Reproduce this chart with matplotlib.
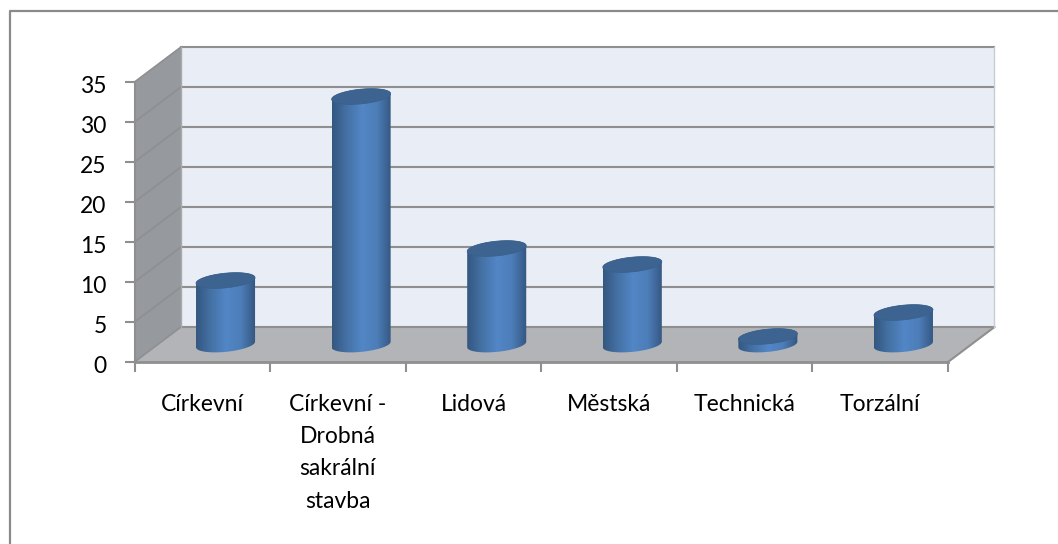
import numpy as np
import matplotlib
matplotlib.use("Agg")
import matplotlib.pyplot as plt
from matplotlib.colors import LinearSegmentedColormap
from matplotlib.lines import Line2D
from matplotlib.patches import Polygon
from matplotlib.transforms import ScaledTranslation

# data
categories = ["Církevní", "Církevní -\nDrobná\nsakrální\nstavba", "Lidová", "Městská", "Technická", "Torzální"]
values = [8, 31, 12, 10, 1, 4]
y_ticks = [0, 5, 10, 15, 20, 25, 30, 35]

# colours
GRID = "#8f8f8f"
BACK = "#e9edf6"
FLOOR = "#b2b4b8"
SIDE = "#96999d"
TOP = "#3d6491"
cyl = LinearSegmentedColormap.from_list("cyl", ["#345780", "#4572a6", "#5286c6", "#4d7eb9", "#345680"])

W, H = 1058, 544
plt.rcParams["font.family"] = ["Lato", "DejaVu Sans"]

fig = plt.figure(figsize=(W / 100, H / 100), dpi=100)
ax = fig.add_axes([134.5 / W, (H - 362) / H, 813.5 / W, 280 / H])

# 3d depth of the box, in data units
dx = 46.5 / 135.6
dy = 35 / 8
n = len(categories)
ymax = y_ticks[-1]

ax.add_patch(Polygon([(dx, dy), (n + dx, dy), (n + dx, ymax + dy), (dx, ymax + dy)], fc=BACK, ec="none", clip_on=False, zorder=1))
ax.add_patch(Polygon([(0, 0), (n, 0), (n + dx, dy), (dx, dy)], fc=FLOOR, ec="none", clip_on=False, zorder=1))
ax.add_patch(Polygon([(0, 0), (dx, dy), (dx, ymax + dy), (0, ymax)], fc=SIDE, ec="none", clip_on=False, zorder=1))

for v in y_ticks:
    ax.plot([dx, n + dx], [v + dy, v + dy], color=GRID, lw=1.5, clip_on=False, zorder=2)
    ax.plot([0, dx], [v, v + dy], color=GRID, lw=1.2, clip_on=False, zorder=2)
ax.plot([0, n], [0, 0], color=GRID, lw=2, clip_on=False, zorder=2)
ax.plot([n, n + dx], [0, dy], color=GRID, lw=1.5, clip_on=False, zorder=2)
ax.plot([n + dx, n + dx], [dy, ymax + dy], color="#c8ccd4", lw=1, clip_on=False, zorder=2)
ax.plot([0, 0], [0, ymax], color=GRID, lw=1.5, clip_on=False, zorder=2)
ax.plot([dx, dx], [dy, ymax + dy], color="#a8aaae", lw=1, clip_on=False, zorder=2)

# circle lying on the floor plane, seen through the depth vector
rx = 27.6 / 135.6
k = 0.225


def ring(cx, cy, t):
    return cx + np.cos(t) * rx + np.sin(t) * k * dx, cy + np.sin(t) * k * dy


t0 = np.arctan2(k * dx, rx)
half = np.sqrt(rx ** 2 + (k * dx) ** 2)
grad = np.linspace(0, 1, 128).reshape(1, -1)

for i, v in enumerate(values):
    cx = i + 0.5 + dx / 2
    low = dy / 2
    top = v + dy / 2
    t_low = np.linspace(t0, t0 - np.pi, 60)
    t_up = np.linspace(t0 + np.pi, t0, 60)
    xl, yl = ring(cx, low, t_low)
    xu, yu = ring(cx, top, t_up)
    body = Polygon(np.column_stack([np.r_[xl, xu], np.r_[yl, yu]]), fc="none", ec="none", zorder=3)
    ax.add_patch(body)
    im = ax.imshow(grad, cmap=cyl, extent=[cx - half, cx + half, low - 3, top + 3], aspect="auto", zorder=3)
    im.set_clip_path(body)
    t = np.linspace(0, 2 * np.pi, 120)
    xt, yt = ring(cx, top, t)
    ax.add_patch(Polygon(np.column_stack([xt, yt]), fc=TOP, ec="#3a5f8a", lw=0.5, zorder=4))

ax.set_xlim(0, n)
ax.set_ylim(0, ymax)
for s in ax.spines.values():
    s.set_visible(False)
ax.patch.set_visible(False)

ax.set_xticks(np.arange(n + 1))
ax.set_xticklabels([])
ax.set_xticks(np.arange(n) + 0.5, minor=True)
ax.set_xticklabels(categories, minor=True, fontsize=16.5, linespacing=1.66, color="black")
ax.tick_params(axis="x", which="major", length=7, width=1.5, color=GRID)
ax.tick_params(axis="x", which="minor", length=0, pad=23)
ax.set_yticks(y_ticks)
ax.set_yticklabels([str(v) for v in y_ticks], fontsize=16.5, color="black")
ax.tick_params(axis="y", length=7, width=1.5, color=GRID, pad=13)
shift = ScaledTranslation(0, -2 / 72, fig.dpi_scale_trans)
for lab in ax.get_yticklabels():
    lab.set_transform(lab.get_transform() + shift)

# chart frame, only left and top edges fall inside the picture
fig.add_artist(Line2D([9.5 / W, 9.5 / W, 1], [0, 1 - 11 / H, 1 - 11 / H], color="#8a8a8a", lw=1.6))

fig.savefig("out.png", dpi=100)
